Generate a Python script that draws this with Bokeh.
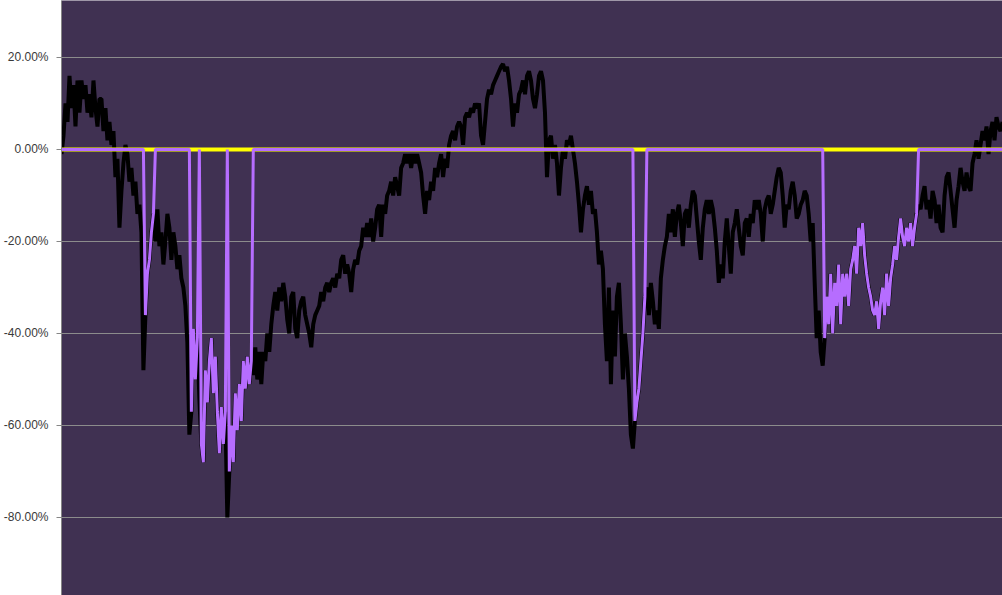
from bokeh.plotting import figure
from bokeh.models import Range1d, FixedTicker, PrintfTickFormatter
from bokeh.embed import file_html
from bokeh.resources import INLINE

# Black series (percent), one value per period
black_series = [
    -1, 3, 10, 6, 16,   9, 14, 5, 15, 8,
    15, 11, 14, 8, 12,   7, 15, 9, 5, 11,
    11, 4, 9, 2, 6,   1, 4, -6, -2, -17,
    -9, -3, 1, -1, -7,   -4, -10, -7, -14, -12,
    -18, -48, -36, -27, -24,   -18, -14, -20, -13, -21,
    -18, -25, -20, -14, -17,   -24, -18, -21, -26, -23,
    -28, -30, -34, -42, -62,   -57, -39, -50, -41, -54,
    -64, -68, -48, -55, -46,   -41, -53, -45, -57, -66,
    -56, -64, -57, -80, -70,   -60, -68, -53, -61, -51,
    -59, -46, -52, -45, -51,   -46, -49, -43, -50, -44,
    -51, -44, -46, -40, -44,   -38, -34, -31, -35, -30,
    -33, -29, -32, -37, -40,   -32, -31, -39, -41, -35,
    -33, -32, -36, -38, -40,   -43, -38, -36, -35, -34,
    -31, -33, -30, -29, -31,   -29, -28, -30, -27, -28,
    -24, -23, -27, -25, -27,   -31, -26, -24, -25, -22,
    -21, -17, -19, -16, -19,   -15, -20, -17, -13, -12,
    -19, -12, -14, -10, -9,   -7, -10, -6, -8, -10,
    -4, -3, -1, -3, -1,   -4, -1, -3, -1, -3,
    -5, -10, -14, -9, -11,   -7, -9, -4, -6, -3,
    -1, -6, -2, -4, 1,   3, 4, 2, 5, 6,
    5, 1, 7, 8, 7,   9, 8, 10, 9, 10,
    3, 1, 6, 11, 13,   12, 14, 15, 16, 17,
    18, 18.6, 17, 18, 15,   11, 5, 10, 8, 12,
    13, 15, 12, 16, 17,   15, 11, 9, 12, 16,
    17, 15, 8, -6, 2,   3, -2, 1, -3, -10,
    -4, 0, -2, 2, 1,   3, 0, -3, -7, -12,
    -18, -13, -10, -8, -12,   -9, -14, -13, -18, -25,
    -22, -26, -38, -46, -30,   -51, -35, -45, -32, -29,
    -38, -50, -40, -45, -52,   -62, -65, -59, -55, -52,
    -46, -40, -32, -30, -36,   -29, -33, -38, -35, -39,
    -28, -24, -21, -19, -14,   -18, -13, -19, -14, -12,
    -16, -21, -14, -13, -17,   -12, -9, -10, -15, -20,
    -24, -17, -13, -11, -14,   -11, -13, -17, -22, -29,
    -25, -28, -20, -15, -21,   -27, -18, -16, -13, -17,
    -21, -23, -16, -15, -19,   -14, -16, -11, -13, -11,
    -14, -20, -13, -11, -10,   -14, -12, -9, -6, -4,
    -5, -10, -17, -12, -13,   -9, -7, -10, -15, -14,
    -12, -11, -9, -10, -14,   -20, -16, -29, -41, -35,
    -44, -47, -41, -32, -38,   -27, -40, -29, -34, -25,
    -38, -27, -32, -27, -34,   -26, -24, -21, -27, -17,
    -21, -16, -23, -27, -30,   -32, -35, -36, -33, -39,
    -33, -30, -36, -27, -34,   -28, -25, -21, -24, -19,
    -15, -19, -21, -17, -20,   -16, -21, -17, -14, -12,
    -13, -10, -8, -13, -11,   -15, -9, -11, -16, -12,
    -17, -18, -10, -6, -5,   -9, -13, -17, -11, -8,
    -4, -7, -9, -5, -8,   -9, -3, -1, 2, -2,
    1, 4, 2, 5, -1,   4, 6, 2, 7, 5,
    4, 6,
]

# Periods in which the purple series follows the black series
signal_windows = [(42, 46), (65, 95), (287, 292), (382, 428)]
# Single periods inside a window where the purple series is flat (0)
signal_gaps = [69, 83]

y_ticks = [-80, -60, -40, -20, 0, 20]

t = list(range(len(black_series)))
purple_series = [0.0] * len(t)
for s, e in signal_windows:
    for i in range(s, e + 1):
        purple_series[i] = black_series[i]
for g in signal_gaps:
    purple_series[g] = 0.0

p = figure(
    width=1002, height=595,
    x_range=Range1d(0, 471), y_range=Range1d(-96.96, 32.39),
    output_backend="svg", toolbar_location=None,
    x_axis_location=None,
    min_border_left=60, min_border_right=0, min_border_top=0, min_border_bottom=0,
    background_fill_color="#403152", border_fill_color="white",
    outline_line_color=None,
)

p.yaxis.ticker = FixedTicker(ticks=y_ticks)
p.yaxis.formatter = PrintfTickFormatter(format="%.2f%%")
p.yaxis.axis_line_color = "#868686"
p.yaxis.major_tick_line_color = "#868686"
p.yaxis.major_tick_out = 5
p.yaxis.major_tick_in = 0
p.yaxis.minor_tick_line_color = None
p.yaxis.major_label_text_font = "Liberation Sans"
p.yaxis.major_label_text_font_size = "12px"
p.yaxis.major_label_text_color = "#3a3a3a"
p.yaxis.major_label_standoff = 8

p.xgrid.visible = False
p.ygrid.grid_line_color = "#8c8c8c"
p.ygrid.grid_line_width = 1

p.line(t, black_series, line_color="black", line_width=4)
p.line([t[0], t[-1]], [0, 0], line_color="#ffff00", line_width=4)
p.line(t, purple_series, line_color="#b66dff", line_width=3)

open("out.html", "w").write(file_html(p, INLINE))
